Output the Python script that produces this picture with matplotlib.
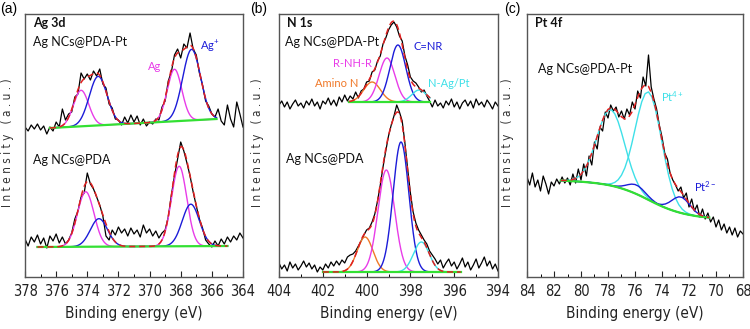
import numpy as np
import matplotlib
matplotlib.use("Agg")
import matplotlib.pyplot as plt
from matplotlib import font_manager
from matplotlib.ticker import MultipleLocator

plt.rcParams['font.family'] = ['Lato', 'DejaVu Sans']
plt.rcParams['mathtext.fontset'] = 'custom'
plt.rcParams['mathtext.rm'] = 'Lato'
plt.rcParams['mathtext.default'] = 'regular'

# ---------------- (a) Ag 3d, raw counts every 0.2 eV from 378 to 364 ----------------
ag_pt_raw = [150, 146, 152, 148, 153, 147, 151, 143, 150, 146,
             155, 150, 168, 157, 163, 165, 180, 183, 204, 198,
             203, 197, 206, 201, 208, 193, 189, 173, 169, 158,
             157, 152, 160, 154, 162, 155, 161, 152, 158, 151,
             155, 153, 158, 157, 170, 176, 196, 205, 222, 228,
             219, 233, 229, 244, 228, 222, 204, 192, 176, 171,
             163, 160, 168, 156, 152, 172, 158, 150, 175, 163,
             150]
ag_raw = [38, 31, 40, 35, 42, 33, 39, 29, 41, 36,
          43, 34, 40, 33, 37, 44, 58, 66, 80, 84,
          104, 93, 88, 80, 72, 61, 41, 37, 47, 42,
          50, 44, 48, 41, 49, 43, 47, 40, 52, 44,
          48, 41, 46, 39, 44, 47, 60, 82, 101, 118,
          135, 126, 114, 101, 85, 71, 58, 49, 37, 33,
          30, 36, 31, 38, 33, 40, 35, 41, 37, 44,
          39]
# fitted peaks: (centre eV, height, fwhm eV)
ag_pt_ag0 = [(374.4, 36, 1.15), (368.4, 52, 1.1)]
ag_pt_ag1 = [(373.3, 49, 1.35), (367.3, 71, 1.35)]
ag_ag0 = [(374.1, 55, 1.25), (368.1, 80, 1.15)]
ag_ag1 = [(373.25, 28, 1.3), (367.35, 42, 1.3)]
# linear background: start eV, start value, end eV, end value
ag_pt_bg = (376.4, 149, 365.7, 158)
ag_bg = (377.2, 30, 365.0, 31)

# ---------------- (b) N 1s, raw counts every 0.125 eV from 404 to 394 ----------------
n_pt_raw = [172, 176, 170, 175, 168, 173, 177, 171,
            174, 169, 176, 172, 178, 171, 175, 168,
            176, 173, 179, 172, 177, 171, 180, 175,
            182, 176, 181, 178, 185, 179, 186, 188,
            195, 196, 205, 207, 216, 221, 233, 239,
            247, 252, 255, 250, 241, 236, 221, 212,
            200, 196, 194, 190, 185, 187, 181, 176,
            170, 177, 171, 174, 169, 176, 172, 178,
            170, 175, 168, 174, 177, 171, 176, 169,
            178, 172, 175, 170, 177, 173, 168, 175,
            171]
n_raw = [14, 8, 12, 6, 15, 9, 13, 7,
         11, 16, 10, 14, 8, 12, 5, 10,
         7, 13, 9, 15, 11, 16, 12, 17,
         14, 20, 22, 23, 26, 31, 36, 42,
         47, 49, 55, 63, 76, 92, 110, 126,
         141, 152, 161, 172, 165, 156, 134, 108,
         84, 65, 54, 47, 42, 37, 33, 26,
         22, 18, 13, 17, 9, 14, 18, 11,
         15, 8, 13, 19, 10, 15, 7, 12,
         18, 9, 14, 20, 11, 16, 8, 13,
         6]
n_pt_amino = [(399.75, 20, 0.9)]
n_pt_rnhr = [(399.07, 44, 0.85)]
n_pt_cnr = [(398.57, 57, 0.85)]
n_pt_nag = [(397.6, 12, 0.8)]
n_amino = [(400.07, 35, 0.85)]
n_rnhr = [(399.1, 102, 0.9)]
n_cnr = [(398.43, 130, 0.85)]
n_nag = [(397.5, 30, 0.85)]
n_pt_bg = (400.8, 175, 397.1, 175)
n_bg = (402.0, 5, 395.7, 5)

# ---------------- (c) Pt 4f, raw counts every 0.2 eV from 84 to 68 ----------------
pt_raw = [100, 92, 104, 90, 97, 86, 101, 93, 83, 95,
          91, 98, 93, 100, 94, 99, 92, 103, 94, 108,
          97, 113, 101, 121, 112, 135, 128, 150, 146, 165,
          159, 172, 166, 170, 160, 166, 158, 168, 162, 175,
          168, 186, 179, 200, 191, 222, 190, 178, 168, 152,
          140, 124, 118, 104, 97, 92, 86, 90, 79, 84,
          70, 78, 66, 72, 60, 68, 58, 64, 55, 60,
          50, 57, 47, 53, 44, 50, 42, 49, 40, 46,
          43]
# Shirley background read every 0.25 eV from 81.5 to 70.5
pt_bg = [96.5, 96.3, 96.1, 95.9, 95.7, 95.5, 95.3, 95.0, 94.7, 94.4,
         94.0, 93.6, 93.1, 92.6, 92.0, 91.3, 90.5, 89.6, 88.6, 87.5,
         86.3, 85.0, 83.6, 82.1, 80.5, 78.8, 77.1, 75.4, 73.7, 72.1,
         70.6, 69.2, 67.9, 66.7, 65.6, 64.6, 63.7, 62.9, 62.2, 61.6,
         61.0, 60.5, 60.1, 59.7, 59.4]
pt_4plus = [(77.8, 76, 2.4), (75.0, 108, 2.3)]
pt_2plus = [(75.9, 9, 1.6), (72.6, 16, 1.6)]

MAGENTA = '#e83ce8'
BLUE = '#1c1cd8'
ORANGE = '#f07828'
CYAN = '#3ee0e8'
GREEN = '#33e033'

# narrow font for the axis text, whatever is available
fonts = font_manager.fontManager.ttflist
if any(f.name == 'Liberation Sans Narrow' for f in fonts):
    tick_font = dict(family=['Liberation Sans Narrow', 'DejaVu Sans'])
    tsize = 10.5
elif any(f.name == 'DejaVu Sans' and f.stretch == 'condensed' for f in fonts):
    tick_font = dict(family=['DejaVu Sans'], fontstretch='condensed')
    tsize = 9.5
else:
    tick_font = dict(family=['Roboto', 'DejaVu Sans'])
    tsize = 9.5


def gauss(e, peaks):
    out = np.zeros_like(e)
    for c, h, w in peaks:
        out += h * np.exp(-4 * np.log(2) * ((e - c) / w) ** 2)
    return out


def draw_fit(ax, e, bg, groups, split=False):
    total = bg.copy()
    for peaks, color in groups:
        if split:
            for p in peaks:
                ax.plot(e, bg + gauss(e, [p]), color=color, lw=1.0, zorder=3)
        else:
            ax.plot(e, bg + gauss(e, peaks), color=color, lw=1.0, zorder=3)
        total += gauss(e, peaks)
    ax.plot(e, bg, color=GREEN, lw=1.6, zorder=4)
    ax.plot(e, total, color='#e02020', lw=1.1, ls=(0, (4, 2.5)), zorder=5)


def linear_fit(ax, line, groups):
    e = np.linspace(line[0], line[2], 300)
    bg = np.linspace(line[1], line[3], 300)
    draw_fit(ax, e, bg, groups)


fig = plt.figure(figsize=(7.5, 3.29), dpi=100)
ax_a = fig.add_axes([25 / 750, 52 / 329, 218 / 750, 263 / 329])
ax_b = fig.add_axes([279 / 750, 52 / 329, 219 / 750, 263 / 329])
ax_c = fig.add_axes([527 / 750, 52 / 329, 216 / 750, 263 / 329])

for ax, lo, hi in [(ax_a, 378, 364), (ax_b, 404, 394), (ax_c, 84, 68)]:
    ax.set_xlim(lo, hi)
    ax.set_ylim(0, 263)
    ax.set_yticks([])
    ax.xaxis.set_major_locator(MultipleLocator(2))
    ax.xaxis.set_minor_locator(MultipleLocator(1))
    ax.tick_params(axis='x', which='major', direction='in', length=4, width=0.8,
                   pad=5, labelsize=tsize + 1, colors='#222222')
    ax.tick_params(axis='x', which='minor', direction='in', length=2.2, width=0.7)
    for lab in ax.get_xticklabels():
        lab.set(**tick_font)
    for s in ax.spines.values():
        s.set_color('#555555')
        s.set_linewidth(1.0)
    ax.set_xlabel('Binding energy (eV)', fontsize=tsize + 1.5, labelpad=5,
                  color='#222222', **tick_font)

# (a)
e_a = np.linspace(378, 364, len(ag_pt_raw))
ax_a.plot(e_a, ag_pt_raw, color='black', lw=0.9, zorder=2)
ax_a.plot(e_a, ag_raw, color='black', lw=0.9, zorder=2)
linear_fit(ax_a, ag_pt_bg, [(ag_pt_ag0, MAGENTA), (ag_pt_ag1, BLUE)])
linear_fit(ax_a, ag_bg, [(ag_ag0, MAGENTA), (ag_ag1, BLUE)])

# (b)
e_b = np.linspace(404, 394, len(n_pt_raw))
ax_b.plot(e_b, n_pt_raw, color='black', lw=0.9, zorder=2)
ax_b.plot(e_b, n_raw, color='black', lw=0.9, zorder=2)
linear_fit(ax_b, n_pt_bg, [(n_pt_amino, ORANGE), (n_pt_rnhr, MAGENTA),
                           (n_pt_cnr, BLUE), (n_pt_nag, CYAN)])
linear_fit(ax_b, n_bg, [(n_amino, ORANGE), (n_rnhr, MAGENTA),
                        (n_cnr, BLUE), (n_nag, CYAN)])

# (c)
e_c = np.linspace(84, 68, len(pt_raw))
ax_c.plot(e_c, pt_raw, color='black', lw=0.9, zorder=2)
e_cf = np.linspace(81.5, 70.5, len(pt_bg))
draw_fit(ax_c, e_cf, np.array(pt_bg), [(pt_4plus, CYAN), (pt_2plus, BLUE)], split=True)


# labels
def label(ax, x, y, s, color='#111111', size=9, weight='normal'):
    ax.text(x, y, s, transform=ax.transAxes, color=color, fontsize=size,
            fontweight=weight, ha='left', va='center')


label(ax_a, 0.037, 0.966, 'Ag 3d', weight='bold')
label(ax_a, 0.037, 0.894, 'Ag NCs@PDA-Pt')
label(ax_a, 0.564, 0.802, 'Ag', color=MAGENTA, size=8)
label(ax_a, 0.803, 0.878, 'Ag$^{+}$', color=BLUE, size=8)
label(ax_a, 0.037, 0.445, 'Ag NCs@PDA')

label(ax_b, 0.037, 0.966, 'N 1s', weight='bold')
label(ax_b, 0.027, 0.894, 'Ag NCs@PDA-Pt')
label(ax_b, 0.612, 0.875, 'C=NR', color=BLUE, size=8)
label(ax_b, 0.247, 0.81, 'R-NH-R', color=MAGENTA, size=8)
label(ax_b, 0.164, 0.734, 'Amino N', color=ORANGE, size=8)
label(ax_b, 0.680, 0.734, 'N-Ag/Pt', color=CYAN, size=8)
label(ax_b, 0.032, 0.449, 'Ag NCs@PDA')

label(ax_c, 0.037, 0.966, 'Pt 4f', weight='bold')
label(ax_c, 0.051, 0.791, 'Ag NCs@PDA-Pt')
label(ax_c, 0.622, 0.684, 'Pt$^{4+}$', color=CYAN, size=8)
label(ax_c, 0.774, 0.342, 'Pt$^{2-}$', color=BLUE, size=8)

for x, s in [(9, '(a)'), (259, '(b)'), (512, '(c)')]:
    fig.text(x / 750, 1 - 9 / 329, s, ha='center', va='center', fontsize=10,
             family=['Liberation Sans', 'DejaVu Sans'])

for x in [8, 258, 507]:
    fig.text(x / 750, 1 - 143 / 329, 'I n t e n s i t y   ( a . u . )',
             rotation=90, ha='center', va='center', fontsize=tsize - 1,
             color='#333333', **tick_font)

fig.savefig('out.png', dpi=100)
